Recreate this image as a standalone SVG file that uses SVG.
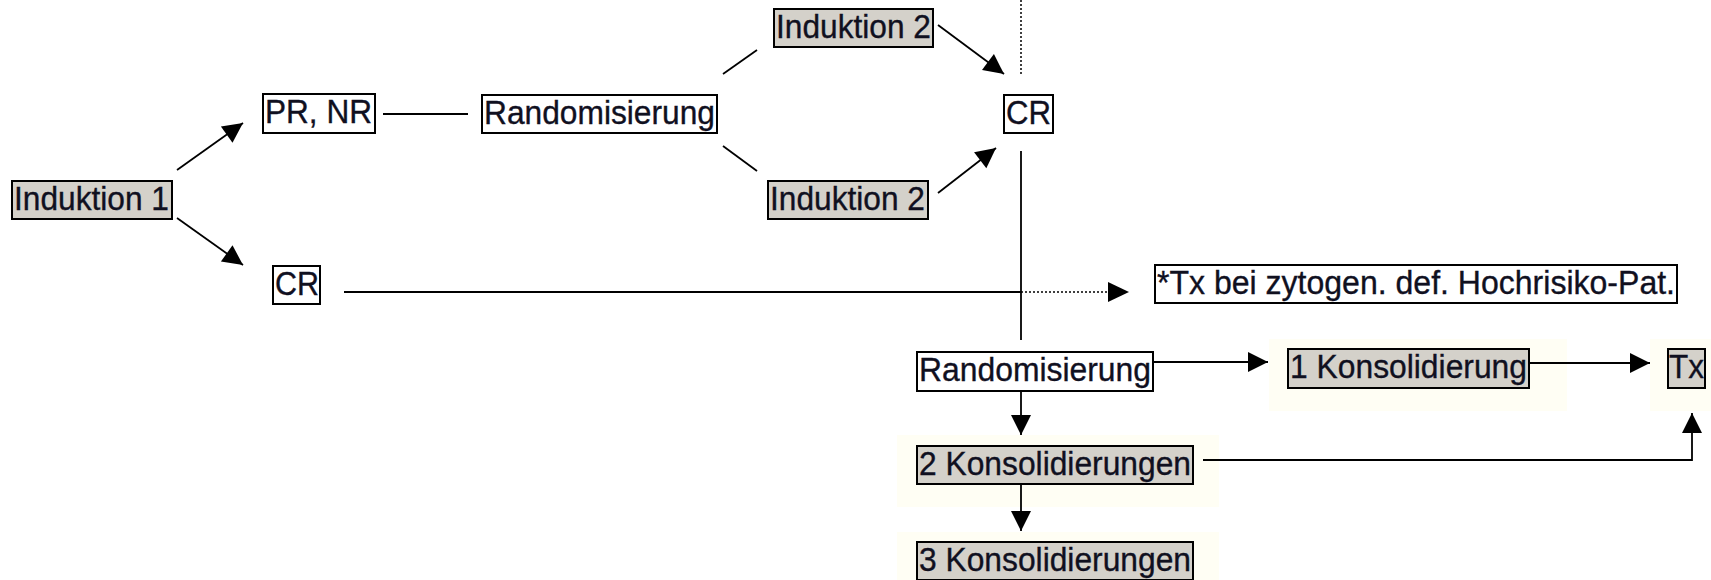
<svg xmlns="http://www.w3.org/2000/svg" width="1711" height="580" viewBox="0 0 1711 580">
<style>
.box{stroke:#000;stroke-width:2}
.w{fill:#fff}
.g{fill:#d4d1ca}
.bg{fill:#fffef4}
text{font-family:"Liberation Sans",Arial,sans-serif;font-size:33px;fill:#10101f;stroke:#10101f;stroke-width:0.35}
.ln{stroke:#000;stroke-width:1.8;fill:none}
.dot{stroke:#000;stroke-width:1.5;stroke-dasharray:2 2;fill:none}
</style>
<defs>
<marker id="ah" markerUnits="userSpaceOnUse" markerWidth="22" markerHeight="22" viewBox="0 0 22 22" refX="21" refY="11" orient="auto">
<path d="M1,1 L21,11 L1,21 z" fill="#000"/>
</marker>
</defs>
<rect x="0" y="0" width="1711" height="580" fill="#fff"/>
<g id="backgrounds">
<rect class="bg" x="1269" y="339" width="298" height="72"/>
<rect class="bg" x="1650" y="339" width="61" height="72"/>
<rect class="bg" x="897" y="435" width="322" height="72"/>
<rect class="bg" x="897" y="532" width="322" height="48"/>
</g>
<g id="connectors">
<line class="ln" x1="177" y1="170" x2="243" y2="123" marker-end="url(#ah)"/>
<line class="ln" x1="177" y1="218" x2="243" y2="265" marker-end="url(#ah)"/>
<line class="ln" x1="383" y1="114" x2="468" y2="114"/>
<line class="ln" x1="723" y1="74" x2="757" y2="50"/>
<line class="ln" x1="723" y1="146" x2="757" y2="171"/>
<line class="ln" x1="938" y1="25" x2="1004" y2="74" marker-end="url(#ah)"/>
<line class="ln" x1="938" y1="193" x2="996" y2="148" marker-end="url(#ah)"/>
<line class="dot" x1="1021" y1="0" x2="1021" y2="75"/>
<line class="ln" x1="1021" y1="151" x2="1021" y2="340"/>
<line class="ln" x1="344" y1="292" x2="1021" y2="292"/>
<line class="dot" x1="1021" y1="292" x2="1112" y2="292"/>
<path d="M1108,282 L1129,292 L1108,302 z" fill="#000"/>
<line class="ln" x1="1153" y1="362" x2="1268" y2="362" marker-end="url(#ah)"/>
<line class="ln" x1="1529" y1="363" x2="1650" y2="363" marker-end="url(#ah)"/>
<polyline class="ln" points="1203,460 1692,460 1692,413" marker-end="url(#ah)"/>
<line class="ln" x1="1021" y1="391" x2="1021" y2="435" marker-end="url(#ah)"/>
<line class="ln" x1="1021" y1="484" x2="1021" y2="531" marker-end="url(#ah)"/>
</g>
<g id="induktion1"><rect class="box g" x="12" y="181" width="160" height="38"/><text x="14" y="210" textLength="155" lengthAdjust="spacingAndGlyphs">Induktion 1</text></g>
<g id="prnr"><rect class="box w" x="263" y="94" width="112" height="39"/><text x="265" y="123" textLength="107" lengthAdjust="spacingAndGlyphs">PR, NR</text></g>
<g id="cr-left"><rect class="box w" x="273" y="266" width="47" height="38"/><text x="275" y="295" textLength="44" lengthAdjust="spacingAndGlyphs">CR</text></g>
<g id="randomisierung1"><rect class="box w" x="482" y="95" width="235" height="38"/><text x="484" y="124" textLength="231" lengthAdjust="spacingAndGlyphs">Randomisierung</text></g>
<g id="induktion2-top"><rect class="box g" x="774" y="9" width="159" height="38"/><text x="776" y="38" textLength="155" lengthAdjust="spacingAndGlyphs">Induktion 2</text></g>
<g id="induktion2-bottom"><rect class="box g" x="768" y="181" width="160" height="38"/><text x="770" y="210" textLength="155" lengthAdjust="spacingAndGlyphs">Induktion 2</text></g>
<g id="cr-right"><rect class="box w" x="1004" y="95" width="49" height="38"/><text x="1006" y="124" textLength="45" lengthAdjust="spacingAndGlyphs">CR</text></g>
<g id="tx-note"><rect class="box w" x="1155" y="265" width="522" height="38"/><text x="1157" y="294" textLength="518" lengthAdjust="spacingAndGlyphs">*Tx bei zytogen. def. Hochrisiko-Pat.</text></g>
<g id="randomisierung2"><rect class="box w" x="917" y="352" width="236" height="39"/><text x="919" y="381" textLength="232" lengthAdjust="spacingAndGlyphs">Randomisierung</text></g>
<g id="konsol1"><rect class="box g" x="1288" y="349" width="241" height="39"/><text x="1290" y="378" textLength="237" lengthAdjust="spacingAndGlyphs">1 Konsolidierung</text></g>
<g id="tx"><rect class="box g" x="1668" y="349" width="37" height="39"/><text x="1669" y="378" textLength="35" lengthAdjust="spacingAndGlyphs">Tx</text></g>
<g id="konsol2"><rect class="box g" x="917" y="446" width="276" height="38"/><text x="919" y="475" textLength="272" lengthAdjust="spacingAndGlyphs">2 Konsolidierungen</text></g>
<g id="konsol3"><rect class="box g" x="917" y="542" width="276" height="38"/><text x="919" y="571" textLength="272" lengthAdjust="spacingAndGlyphs">3 Konsolidierungen</text></g>
</svg>
